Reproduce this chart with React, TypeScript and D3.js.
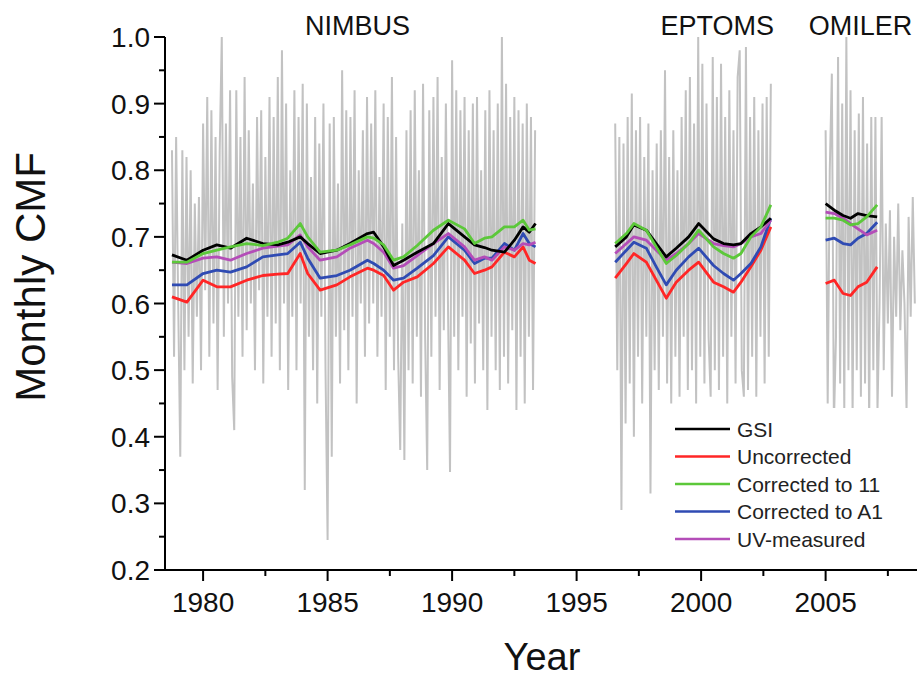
import React from "react";
import * as d3 from "d3";

// ---------- data ----------
const yTickValues = [0.2, 0.3, 0.4, 0.5, 0.6, 0.7, 0.8, 0.9, 1.0];
const yMinorValues = [0.25, 0.35, 0.45, 0.55, 0.65, 0.75, 0.85, 0.95];
const xTickValues = [1980, 1985, 1990, 1995, 2000, 2005];
const xMinorValues = [1982.5, 1987.5, 1992.5, 1997.5, 2002.5, 2007.5];

const instrumentNames = ["NIMBUS", "EPTOMS", "OMILER"];
const instrumentLabelYears = [1986.2, 2000.65, 2006.4];

// monthly CMF (grey), each segment starts at given year, monthly step
const nimbusStart = 1978.75;
const nimbusMonthly = [
  0.83, 0.52, 0.85, 0.6, 0.37, 0.83, 0.5, 0.82, 0.55, 0.8, 0.48, 0.75,
  0.58, 0.76, 0.5, 0.87, 0.62, 0.91, 0.52, 0.89, 0.57, 0.85, 0.47, 0.83,
  1.0, 0.55, 0.87, 0.6, 0.92, 0.49, 0.41, 0.92, 0.58, 0.85, 0.52, 0.94,
  0.56, 0.86, 0.6, 0.78, 0.5, 0.88, 0.62, 0.89, 0.48, 0.82, 0.58, 0.91,
  0.52, 0.88, 0.57, 0.94, 0.5, 0.98, 0.6, 0.9, 0.47, 0.8, 0.58, 0.92,
  0.5, 0.88, 0.6, 0.93, 0.32, 0.9, 0.55, 0.79, 0.5, 0.88, 0.45, 0.84,
  0.58, 0.9, 0.5, 0.245, 0.87, 0.37, 0.88, 0.55, 0.78, 0.48, 0.95, 0.56,
  0.89, 0.5, 0.88, 0.58, 0.92, 0.45, 0.8, 0.6, 0.86, 0.52, 0.91, 0.57,
  0.87, 0.6, 0.92, 0.52, 0.79, 0.58, 0.9, 0.47, 0.88, 0.55, 0.94, 0.5,
  0.85, 0.52, 0.38, 0.72, 0.365, 0.86, 0.5, 0.89, 0.48, 0.92, 0.55, 0.8,
  0.46, 0.93, 0.55, 0.35, 0.89, 0.52, 0.91, 0.58, 0.94, 0.47, 0.82, 0.56,
  0.9, 0.6, 0.347, 0.965, 0.55, 0.92, 0.5, 0.89, 0.58, 0.91, 0.46, 0.86,
  0.54, 0.9, 0.48, 0.91, 0.57, 0.8, 0.5, 0.89, 0.44, 0.92, 0.55, 0.86,
  0.5, 0.9, 0.47, 1.0, 0.52, 0.93, 0.48, 0.88, 0.56, 0.91, 0.44, 0.89,
  0.52, 0.87, 0.45, 0.9, 0.55, 0.88, 0.47, 0.86,
];
const eptomsStart = 1996.55;
const eptomsMonthly = [
  0.87, 0.5, 0.85, 0.29, 0.84, 0.42, 0.88, 0.48, 0.915, 0.4, 0.86, 0.52,
  0.88, 0.45, 0.82, 0.55, 0.87, 0.315, 0.8, 0.5, 0.84, 0.47, 0.86, 0.55,
  0.95, 0.48, 0.82, 0.45, 0.86, 0.52, 0.8, 0.46, 0.88, 0.55, 0.92, 0.47,
  0.94, 0.5, 0.87, 0.45, 1.0, 0.52, 0.96, 0.48, 0.9, 0.55, 0.46, 0.97,
  0.5, 0.91, 0.47, 0.96, 0.52, 0.88, 0.45, 0.92, 0.55, 0.86, 0.48, 0.94,
  0.98, 0.5, 0.46, 0.985, 0.47, 0.88, 0.52, 0.91, 0.46, 0.86, 0.55, 0.9,
  0.48, 0.91, 0.52, 0.93,
];
const omilerStart = 2005.0;
const omilerMonthly = [
  0.86, 0.45, 0.8, 0.945, 0.42, 0.55, 0.97, 0.48, 0.9, 0.44, 1.0, 0.5,
  0.92, 0.43, 0.86, 0.5, 0.885, 0.46, 0.91, 0.48, 0.84, 0.42, 0.88, 0.5,
  0.88, 0.44, 0.6, 0.88, 0.5, 0.72, 0.57, 0.74, 0.46, 0.7, 0.58, 0.75,
  0.56, 0.68, 0.6, 0.44, 0.73, 0.58, 0.76, 0.6,
];

// running means, sampled years per segment
const nimbusYears = [
  1978.75, 1979.35, 1980.0, 1980.55, 1981.1, 1981.75, 1982.4, 1983.0, 1983.4,
  1983.9, 1984.2, 1984.7, 1985.37, 1985.9, 1986.6, 1986.85, 1987.25, 1987.65,
  1988.05, 1988.6, 1989.25, 1989.85, 1990.5, 1990.9, 1991.3, 1991.6, 1992.1,
  1992.5, 1992.85, 1993.1, 1993.35,
];
const gsiNimbus = [0.673, 0.665, 0.68, 0.688, 0.683, 0.698, 0.69, 0.688, 0.692, 0.7, 0.69, 0.675, 0.68, 0.69, 0.705, 0.707, 0.685, 0.657, 0.665, 0.677, 0.69, 0.72, 0.7, 0.688, 0.684, 0.68, 0.677, 0.695, 0.715, 0.707, 0.72];
const uncorrNimbus = [0.61, 0.602, 0.635, 0.625, 0.625, 0.635, 0.642, 0.644, 0.645, 0.675, 0.645, 0.62, 0.628, 0.64, 0.653, 0.65, 0.642, 0.62, 0.632, 0.64, 0.66, 0.685, 0.665, 0.645, 0.65, 0.655, 0.677, 0.67, 0.685, 0.665, 0.66];
const corr11Nimbus = [0.662, 0.662, 0.675, 0.68, 0.685, 0.69, 0.687, 0.692, 0.698, 0.72, 0.7, 0.677, 0.68, 0.688, 0.7, 0.698, 0.688, 0.665, 0.67, 0.687, 0.71, 0.725, 0.712, 0.69, 0.698, 0.7, 0.715, 0.715, 0.725, 0.71, 0.712];
const corrA1Nimbus = [0.628, 0.628, 0.645, 0.65, 0.647, 0.655, 0.67, 0.673, 0.675, 0.692, 0.668, 0.638, 0.642, 0.65, 0.665, 0.66, 0.65, 0.635, 0.638, 0.653, 0.672, 0.7, 0.68, 0.66, 0.668, 0.668, 0.69, 0.68, 0.705, 0.69, 0.685];
const uvNimbus = [0.662, 0.66, 0.668, 0.67, 0.665, 0.675, 0.683, 0.686, 0.688, 0.703, 0.685, 0.665, 0.67, 0.683, 0.695, 0.69, 0.677, 0.653, 0.657, 0.672, 0.69, 0.705, 0.685, 0.665, 0.67, 0.665, 0.685, 0.68, 0.69, 0.688, 0.692];

const eptomsYears = [1996.55, 1997.0, 1997.3, 1997.8, 1998.2, 1998.6, 1999.0, 1999.5, 1999.9, 2000.5, 2000.9, 2001.3, 2001.6, 2002.0, 2002.4, 2002.8];
const gsiEptoms = [0.685, 0.7, 0.718, 0.71, 0.69, 0.67, 0.683, 0.7, 0.72, 0.697, 0.69, 0.688, 0.69, 0.705, 0.715, 0.728];
const uncorrEptoms = [0.638, 0.66, 0.675, 0.662, 0.635, 0.608, 0.632, 0.65, 0.662, 0.632, 0.625, 0.617, 0.632, 0.655, 0.68, 0.715];
const corr11Eptoms = [0.69, 0.705, 0.72, 0.71, 0.685, 0.66, 0.672, 0.69, 0.71, 0.685, 0.675, 0.668, 0.675, 0.7, 0.715, 0.748];
const corrA1Eptoms = [0.662, 0.68, 0.692, 0.683, 0.655, 0.628, 0.65, 0.67, 0.683, 0.657, 0.645, 0.635, 0.645, 0.66, 0.685, 0.728];
const uvEptoms = [0.675, 0.69, 0.7, 0.695, 0.68, 0.665, 0.675, 0.69, 0.705, 0.69, 0.687, 0.685, 0.69, 0.7, 0.705, 0.725];

const omilerYears = [2005.0, 2005.35, 2005.7, 2006.0, 2006.3, 2006.65, 2007.07];
const gsiOmiler = [0.75, 0.74, 0.732, 0.728, 0.735, 0.732, 0.73];
const uncorrOmiler = [0.63, 0.635, 0.615, 0.612, 0.625, 0.632, 0.655];
const corr11Omiler = [0.728, 0.728, 0.725, 0.718, 0.72, 0.73, 0.748];
const corrA1Omiler = [0.695, 0.698, 0.69, 0.688, 0.698, 0.705, 0.722];
const uvOmiler = [0.737, 0.735, 0.728, 0.72, 0.712, 0.703, 0.71];

const seriesNames = ["GSI", "Uncorrected", "Corrected to 11", "Corrected to A1", "UV-measured"];
const seriesColors = ["#000000", "#ff2626", "#5cc83a", "#2f4bb3", "#b44db8"];

// ---------- layout ----------
const W = 923;
const H = 680;
const left = 165;
const right = 917;
const top = 37;
const bottom = 570;
const FONT = "'Liberation Sans', Arial, Helvetica, sans-serif";

export default function App() {
  const x = d3.scaleLinear().domain([1978.47, 2008.67]).range([left, right]);
  const y = d3.scaleLinear().domain([0.2, 1.0]).range([bottom, top]);

  const line = d3
    .line<[number, number]>()
    .x((d) => x(d[0]))
    .y((d) => y(d[1]));

  const monthly = (start: number, vals: number[]) =>
    vals.map((v, i) => [start + i / 12, v] as [number, number]);
  const zipped = (years: number[], vals: number[]) =>
    years.map((yr, i) => [yr, vals[i]] as [number, number]);

  const greySegs = [
    monthly(nimbusStart, nimbusMonthly),
    monthly(eptomsStart, eptomsMonthly),
    monthly(omilerStart, omilerMonthly),
  ];

  const segs = [
    { years: nimbusYears, s: [gsiNimbus, uncorrNimbus, corr11Nimbus, corrA1Nimbus, uvNimbus] },
    { years: eptomsYears, s: [gsiEptoms, uncorrEptoms, corr11Eptoms, corrA1Eptoms, uvEptoms] },
    { years: omilerYears, s: [gsiOmiler, uncorrOmiler, corr11Omiler, corrA1Omiler, uvOmiler] },
  ];
  const drawOrder = [1, 3, 4, 0, 2];

  const legendX = 675;
  const legendY0 = 429;
  const legendStep = 27.5;

  return (
    <svg
      width={W}
      height={H}
      style={{ position: "absolute", left: 0, top: 0, background: "#fff" }}
      fontFamily={FONT}
    >
      <defs>
        <clipPath id="plotclip">
          <rect x={left} y={0} width={right - left + 2} height={bottom} />
        </clipPath>
      </defs>
      {/* grey monthly */}
      <g clipPath="url(#plotclip)">
        {greySegs.map((seg, i) => (
          <path key={i} d={line(seg) || ""} fill="none" stroke="#c2c2c2" strokeWidth={2} />
        ))}
      </g>

      {/* legend background */}
      <rect x={660} y={408} width={right - 660 + 1} height={bottom - 408 - 1} fill="#fff" />

      {/* colored running means */}
      {segs.map((seg, si) =>
        drawOrder.map((k) => (
          <path
            key={si + "-" + k}
            d={line(zipped(seg.years, seg.s[k])) || ""}
            fill="none"
            stroke={seriesColors[k]}
            strokeWidth={2.8}
            strokeLinejoin="round"
          />
        ))
      )}

      {/* axes */}
      <line x1={left} x2={left} y1={top} y2={bottom} stroke="#000" strokeWidth={2} />
      <line x1={left - 11} x2={right} y1={bottom} y2={bottom} stroke="#000" strokeWidth={2} />
      {yTickValues.map((v) => (
        <g key={v}>
          <line x1={left - 11} x2={left} y1={y(v)} y2={y(v)} stroke="#000" strokeWidth={2} />
          <text x={left - 15} y={y(v)} dy="0.36em" textAnchor="end" fontSize={28} fill="#111">
            {d3.format(".1f")(v)}
          </text>
        </g>
      ))}
      {yMinorValues.map((v) => (
        <line key={v} x1={left - 6} x2={left} y1={y(v)} y2={y(v)} stroke="#000" strokeWidth={2} />
      ))}
      {xTickValues.map((v) => (
        <g key={v}>
          <line x1={x(v)} x2={x(v)} y1={bottom} y2={bottom + 11} stroke="#000" strokeWidth={2} />
          <text x={x(v)} y={bottom + 42} textAnchor="middle" fontSize={28} fill="#111">
            {v}
          </text>
        </g>
      ))}
      {xMinorValues.map((v) => (
        <line key={v} x1={x(v)} x2={x(v)} y1={bottom} y2={bottom + 6} stroke="#000" strokeWidth={2} />
      ))}

      {/* instrument labels */}
      {instrumentNames.map((n, i) => (
        <text key={n} x={x(instrumentLabelYears[i])} y={35} textAnchor="middle" fontSize={27} fill="#111">
          {n}
        </text>
      ))}

      {/* axis titles */}
      <text x={542} y={670} textAnchor="middle" fontSize={38} fill="#111">
        Year
      </text>
      <text
        transform={`translate(45,277) rotate(-90)`}
        textAnchor="middle"
        fontSize={42}
        fill="#111"
      >
        Monthly CMF
      </text>

      {/* legend */}
      {seriesNames.map((n, i) => (
        <g key={n} transform={`translate(${legendX},${legendY0 + i * legendStep})`}>
          <line x1={0} x2={55} y1={0} y2={0} stroke={seriesColors[i]} strokeWidth={2.6} />
          <text x={62} y={0} dy="0.36em" fontSize={21} fill="#222">
            {n}
          </text>
        </g>
      ))}
    </svg>
  );
}
